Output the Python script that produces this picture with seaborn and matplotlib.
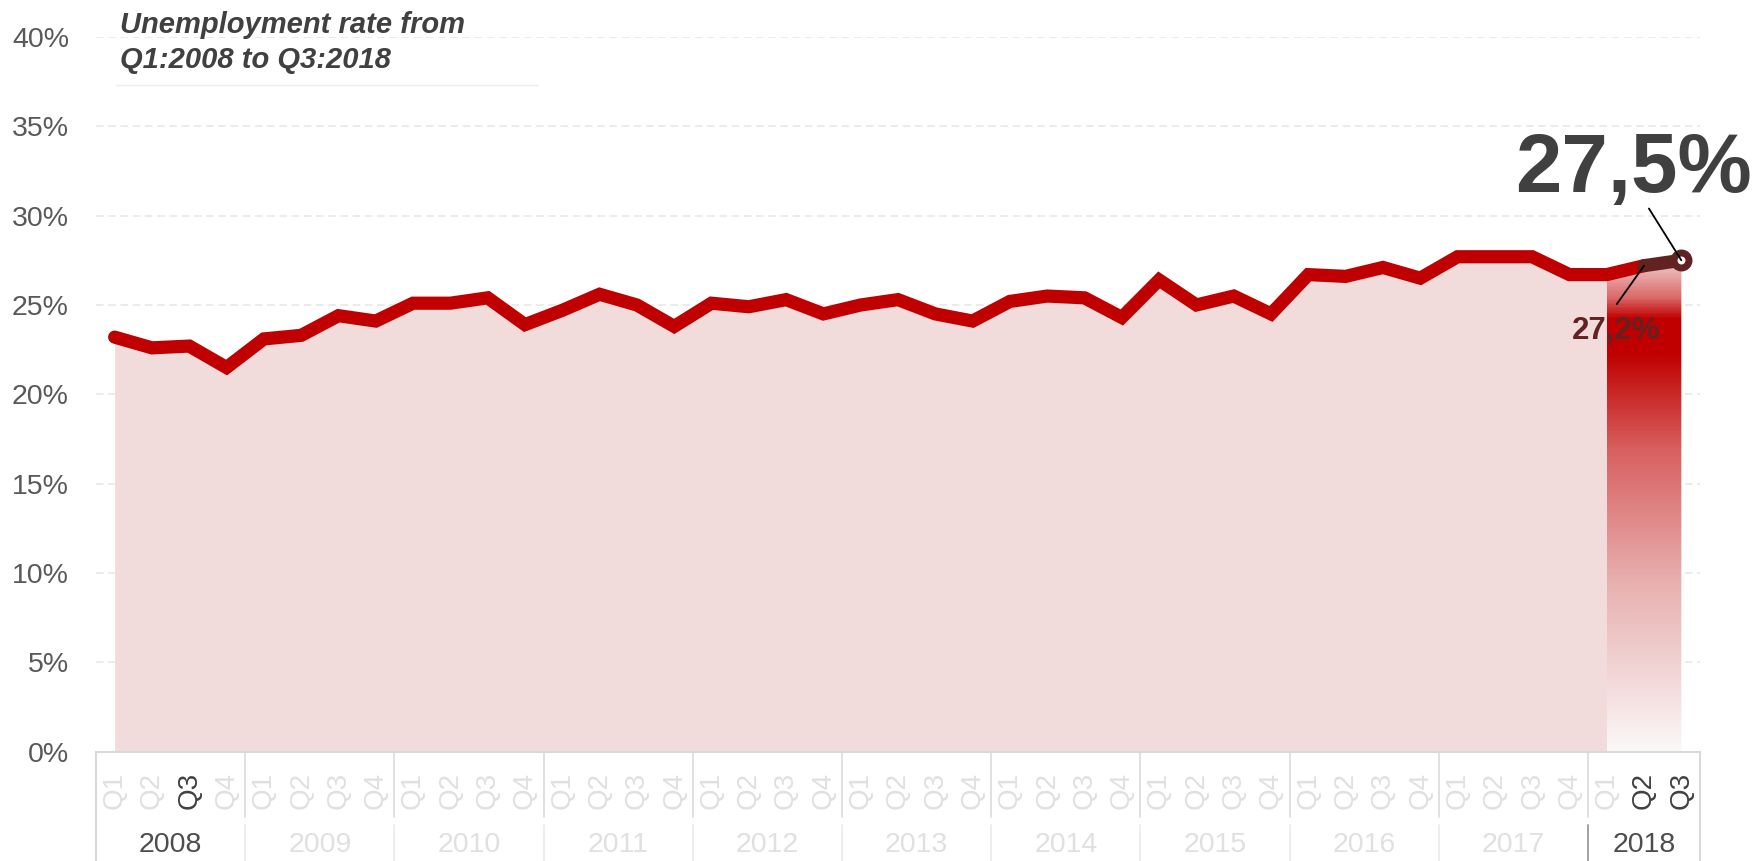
import numpy as np
import pandas as pd
import matplotlib
matplotlib.use("Agg")
import matplotlib.pyplot as plt
import matplotlib.transforms as mtransforms
from matplotlib.colors import LinearSegmentedColormap
import seaborn as sns

# data
years = ["2008", "2009", "2010", "2011", "2012", "2013",
         "2014", "2015", "2016", "2017", "2018"]
quarters = ["Q1", "Q2", "Q3", "Q4"]
rate = [23.2, 22.6, 22.7, 21.5,
        23.1, 23.3, 24.4, 24.1,
        25.1, 25.1, 25.4, 23.9,
        24.7, 25.6, 25.0, 23.8,
        25.1, 24.9, 25.3, 24.5,
        25.0, 25.3, 24.5, 24.1,
        25.2, 25.5, 25.4, 24.3,
        26.4, 25.0, 25.5, 24.5,
        26.7, 26.6, 27.1, 26.5,
        27.7, 27.7, 27.7, 26.7,
        26.7, 27.2, 27.5]
highlight_q = [("2008", "Q3"), ("2018", "Q2"), ("2018", "Q3")]
highlight_years = ["2008", "2018"]
title_lines = ["Unemployment rate from", "Q1:2008 to Q3:2018"]

# build the long table
rows = []
for y in years:
    for q in quarters:
        if len(rows) < len(rate):
            rows.append((y, q))
df = pd.DataFrame(rows, columns=["year", "quarter"])
df["rate"] = rate
df["x"] = np.arange(len(df))
n = len(df)

RED = "#c00000"
MAROON = "#632222"
PINK = "#f2dbdb"
LIGHT = "#e0e0e0"
DARK = "#404040"

sns.set_theme(style="white")
plt.rcParams["font.family"] = ["Liberation Sans", "DejaVu Sans"]

W, H = 1759, 861
fig = plt.figure(figsize=(W / 100, H / 100), dpi=100)
ax = fig.add_axes([96 / W, 1 - 751.6 / H, 1604 / W, 714.6 / H])

# pink area up to Q1 2018, gradient for the 2018 quarters
hist = df[df["x"] <= n - 3]
ax.fill_between(hist["x"], hist["rate"], 0, color=PINK, lw=0, zorder=2)

last = df[df["x"] >= n - 3]
clip = ax.fill_between(last["x"], last["rate"], 0, color="none", lw=0)
top = last["rate"].max()
cmap = LinearSegmentedColormap.from_list(
    "grad", [(0.0, "#fcf8f8"), (0.138, "#f3dada"), (0.342, "#e8b0b0"),
             (0.615, "#d86060"), (0.811, RED), (0.884, RED),
             (0.927, "#dc6a6a"), (1.0, "#f0cccc")])
grad = np.linspace(0, top, 400).reshape(-1, 1)
im = ax.imshow(grad, extent=[n - 3, n - 1, 0, top], origin="lower",
               aspect="auto", cmap=cmap, vmin=0, vmax=top, zorder=2.5)
im.set_clip_path(clip.get_paths()[0], transform=ax.transData)

# main line and last highlighted step
main = df[df["x"] <= n - 2]
sns.lineplot(data=main, x="x", y="rate", ax=ax, color=RED, lw=9.5,
             solid_capstyle="round", solid_joinstyle="miter", zorder=4)
sns.lineplot(data=last[last["x"] >= n - 2], x="x", y="rate", ax=ax,
             color=MAROON, lw=9.5, solid_capstyle="round", zorder=5)
ax.plot(df["x"].iloc[-1], df["rate"].iloc[-1], "o", ms=10.8, mew=5,
        mfc="white", mec=MAROON, zorder=6)

# value callouts
ax.text(40.73, 31.3, f"{rate[-1]:.1f}%".replace(".", ","), fontsize=60,
        fontweight="bold", color=DARK, ha="center", va="baseline", zorder=7)
ax.plot([41.13, df["x"].iloc[-1]], [30.4, rate[-1]], color="black", lw=1.3,
        zorder=7)
ax.text(40.25, 23.1, f"{rate[-2]:.1f}%".replace(".", ","), fontsize=22.5,
        fontweight="bold", color=MAROON, ha="center", va="baseline", zorder=7)
ax.plot([40.27, df["x"].iloc[-2]], [25.05, rate[-2]], color="black", lw=1.3,
        zorder=7)

# axes styling
ax.set_xlim(-0.5, n - 0.5)
ax.set_ylim(0, 40)
ax.set_yticks(range(0, 41, 5))
ax.set_yticklabels([f"{v}%" for v in range(0, 41, 5)])
ax.tick_params(axis="y", length=0, pad=19.5, labelsize=20.5,
               labelcolor="#595959")
ax.yaxis.grid(True, color="#e6e6e6", lw=1.1, ls=(0, (5, 3)))
ax.xaxis.grid(False)
ax.set_axisbelow(True)
for s in ["top", "left", "right"]:
    ax.spines[s].set_visible(False)
ax.spines["bottom"].set_color("#d9d9d9")
ax.spines["bottom"].set_linewidth(1.5)
ax.set_xlabel("")
ax.set_ylabel("")

ax.set_xticks(df["x"])
ax.set_xticklabels(df["quarter"], rotation=90, fontsize=20)
ax.tick_params(axis="x", length=0, pad=14.5)
for lab, (y, q) in zip(ax.get_xticklabels(), rows):
    lab.set_color(DARK if (y, q) in highlight_q else LIGHT)

# year row and separators under the axis
tr = mtransforms.blended_transform_factory(ax.transData, ax.transAxes)
r_top, r_mid, r_bot = -0.0915, -0.1027, -0.16
for y in years:
    xs = df.loc[df["year"] == y, "x"]
    ax.text(xs.mean(), -0.1305, y, transform=tr, ha="center", va="center",
            fontsize=20.5, color="#4d4d4d" if y in highlight_years else LIGHT)
    b = xs.min() - 0.5
    if b > -0.5:
        ax.plot([b, b], [0, r_top], transform=tr, color="#dddddd", lw=1.3,
                clip_on=False)
        ax.plot([b, b], [r_mid, r_bot], transform=tr,
                color="#9a9a9a" if y == years[-1] else "#ececec", lw=1.3,
                clip_on=False)
for b in [-0.5, n - 0.5]:
    ax.plot([b, b], [0, r_bot], transform=tr, color="#d9d9d9", lw=1.5,
            clip_on=False)

# title block
for line, base in zip(title_lines, [33, 68]):
    fig.text(120 / W, 1 - base / H, line, fontsize=21, fontweight="bold",
             fontstyle="italic", color=DARK, ha="left", va="baseline")
fig.add_artist(plt.Line2D([116 / W, 538 / W], [1 - 85 / H] * 2,
                          color="#ececec", lw=1))

fig.savefig("out.png", dpi=100)
